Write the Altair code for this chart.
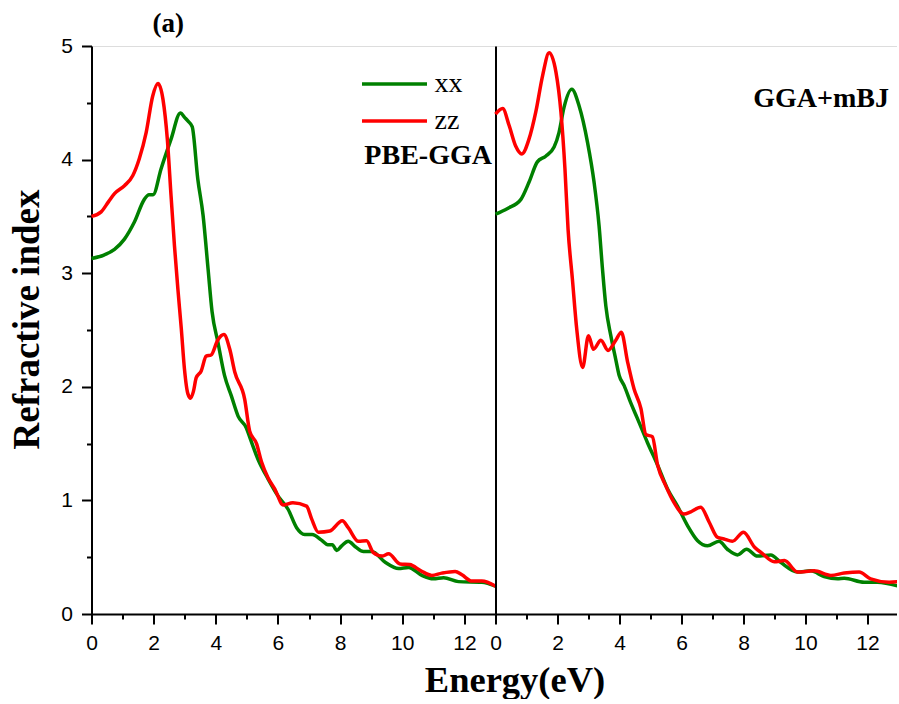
import altair as alt
import pandas as pd

# ---------------- data ----------------
pbe_xx_E = [0.0, 0.4, 0.74, 1.06, 1.38, 1.70, 1.85, 1.98, 2.24, 2.56, 2.86, 3.00, 3.10, 3.24, 3.42,
            3.59, 3.75, 3.88, 4.07, 4.28, 4.50, 4.72, 4.98, 5.10, 5.36, 5.68, 6.00, 6.33, 6.60, 6.86,
            7.10, 7.40, 7.60, 7.75, 7.89, 8.05, 8.26, 8.50, 8.75, 9.02, 9.45, 9.88, 10.2, 10.63,
            11.0, 11.33, 11.81, 12.56, 13.0]
pbe_xx_n = [3.13, 3.16, 3.21, 3.30, 3.45, 3.65, 3.69, 3.69, 3.92, 4.18, 4.41, 4.37, 4.34, 4.29, 3.83,
            3.51, 3.04, 2.66, 2.39, 2.10, 1.92, 1.74, 1.64, 1.55, 1.36, 1.19, 1.04, 0.92, 0.76, 0.70,
            0.70, 0.65, 0.61, 0.61, 0.56, 0.60, 0.64, 0.59, 0.55, 0.55, 0.455, 0.40, 0.41, 0.34,
            0.31, 0.32, 0.285, 0.28, 0.245]

pbe_zz_E = [0.0, 0.31, 0.55, 0.74, 1.06, 1.33, 1.54, 1.76, 1.97, 2.14, 2.30, 2.44, 2.56, 2.67, 2.78,
            2.89, 2.99, 3.10, 3.19, 3.28, 3.37, 3.53, 3.69, 3.85, 4.06, 4.26, 4.45, 4.61, 4.93, 5.09,
            5.31, 5.47, 5.68, 5.90, 6.17, 6.48, 6.92, 7.08, 7.30, 7.67, 8.07, 8.26, 8.59, 8.85, 9.07,
            9.35, 9.56, 9.93, 10.24, 10.60, 10.95, 11.27, 11.70, 11.92, 12.24, 12.56, 13.0]
pbe_zz_n = [3.50, 3.54, 3.63, 3.70, 3.77, 3.86, 4.01, 4.24, 4.56, 4.67, 4.53, 4.18, 3.68, 3.24, 2.86,
            2.51, 2.16, 1.94, 1.90, 1.96, 2.08, 2.14, 2.27, 2.28, 2.41, 2.46, 2.33, 2.13, 1.89, 1.61,
            1.50, 1.34, 1.20, 1.10, 0.96, 0.98, 0.95, 0.84, 0.72, 0.73, 0.82, 0.76, 0.64, 0.645, 0.54,
            0.51, 0.53, 0.44, 0.435, 0.38, 0.34, 0.36, 0.375, 0.345, 0.29, 0.29, 0.245]

mbj_xx_E = [0.0, 0.39, 0.82, 1.08, 1.35, 1.62, 1.89, 2.05, 2.21, 2.46, 2.70, 2.97, 3.18, 3.34, 3.45,
            3.56, 3.72, 3.88, 3.99, 4.15, 4.36, 4.58, 4.90, 5.23, 5.55, 5.87, 6.19, 6.52, 6.84, 7.21,
            7.48, 7.81, 8.10, 8.45, 8.88, 9.20, 9.74, 10.17, 10.60, 11.03, 11.25, 11.89, 12.32, 13.0]
mbj_xx_n = [3.52, 3.57, 3.65, 3.80, 3.98, 4.03, 4.11, 4.24, 4.46, 4.62, 4.47, 4.15, 3.80, 3.42, 3.04,
            2.71, 2.45, 2.24, 2.10, 2.01, 1.86, 1.72, 1.51, 1.31, 1.10, 0.95, 0.78, 0.645, 0.60, 0.64,
            0.57, 0.52, 0.57, 0.51, 0.52, 0.455, 0.37, 0.38, 0.33, 0.31, 0.315, 0.28, 0.28, 0.245]

mbj_zz_E = [0.0, 0.23, 0.44, 0.65, 0.85, 1.08, 1.30, 1.52, 1.73, 1.95, 2.11, 2.24, 2.34, 2.48, 2.62,
            2.81, 3.00, 3.16, 3.40, 3.63, 3.88, 4.06, 4.26, 4.47, 4.69, 4.85, 5.06, 5.23, 5.49, 5.76,
            6.08, 6.30, 6.62, 6.89, 7.16, 7.37, 7.64, 8.00, 8.35, 8.62, 8.99, 9.32, 9.74, 10.28,
            10.82, 11.25, 11.73, 12.10, 12.70, 13.0]
mbj_zz_n = [4.40, 4.45, 4.30, 4.12, 4.05, 4.18, 4.42, 4.74, 4.94, 4.77, 4.42, 3.92, 3.39, 2.95, 2.51,
            2.17, 2.45, 2.33, 2.41, 2.32, 2.41, 2.48, 2.22, 1.98, 1.81, 1.58, 1.56, 1.31, 1.13, 0.98,
            0.88, 0.90, 0.94, 0.81, 0.675, 0.66, 0.64, 0.72, 0.59, 0.53, 0.46, 0.47, 0.37, 0.38,
            0.34, 0.36, 0.37, 0.31, 0.28, 0.285]

components = ["xx", "zz"]
colors = ["#008000", "#ff0000"]
x_major = [0, 2, 4, 6, 8, 10, 12]
x_minor = [1, 3, 5, 7, 9, 11, 13]
y_major = [0, 1, 2, 3, 4, 5]
y_minor = [0.5, 1.5, 2.5, 3.5, 4.5]


def panel_df(exx, nxx, ezz, nzz):
    return pd.DataFrame({
        "E": exx + ezz,
        "n": nxx + nzz,
        "comp": [components[0]] * len(exx) + [components[1]] * len(ezz),
    })


df_pbe = panel_df(pbe_xx_E, pbe_xx_n, pbe_zz_E, pbe_zz_n)
df_mbj = panel_df(mbj_xx_E, mbj_xx_n, mbj_zz_E, mbj_zz_n)

W_L, W_R, H = 404, 403, 568
SERIF = "Liberation Serif"
SANS = "Liberation Sans"

x_scale = alt.Scale(domain=[0, 13], nice=False, zero=False)
y_scale = alt.Scale(domain=[0, 5], nice=False)

common_axis = dict(tickColor="black", tickWidth=2, domainColor="black", domainWidth=2, grid=False)


def x_major_axis(title=None, **kw):
    return alt.Axis(values=x_major, tickSize=10, format="d",
                    labelFont=SANS, labelFontSize=21, labelColor="black", labelPadding=8,
                    labelFlush=False, labelOverlap=False, title=title, **common_axis, **kw)


x_minor_axis = alt.Axis(values=x_minor, tickSize=5, labels=False, domain=False, title=None,
                        orient="bottom", tickColor="black", tickWidth=2, grid=False)

y_major_left = alt.Axis(
    values=y_major, tickSize=10, format="d",
    labelFont=SANS, labelFontSize=21, labelColor="black", labelPadding=9,
    labelFlush=False, labelOverlap=False,
    title="Refractive index", titleFont=SERIF, titleFontSize=37, titleFontWeight="bold",
    titleColor="black", titlePadding=14, titleY=273, **common_axis,
)
y_minor_left = alt.Axis(values=y_minor, tickSize=5, labels=False, domain=False, title=None,
                        orient="left", tickColor="black", tickWidth=2, grid=False)
y_axis_right = alt.Axis(values=y_major, ticks=False, labels=False, title=None, **common_axis)

# legend: a horizontal line symbol whose nominal box is small, so rows can sit close
legend = alt.Legend(
    orient="none", legendX=289, legendY=24, title=None,
    symbolType="M-4,0H4", symbolSize=264, symbolStrokeWidth=3.5,
    symbolFillColor="transparent",
    labelFont=SERIF, labelFontSize=28, labelColor="black", labelOffset=26,
    rowPadding=9, padding=0, labelLimit=0,
)

color_left = alt.Color("comp:N", scale=alt.Scale(domain=components, range=colors), legend=legend)
color_right = alt.Color("comp:N", scale=alt.Scale(domain=components, range=colors), legend=None)

# ---------------- left panel: PBE-GGA ----------------
lines_left = alt.Chart(df_pbe).mark_line(strokeWidth=3.5, interpolate="monotone").encode(
    x=alt.X("E:Q", scale=x_scale, axis=x_major_axis(
        "Energy(eV)", titleFont=SERIF, titleFontSize=36.5, titleFontWeight="bold",
        titleColor="black", titleX=423, titleY=77, titleAlign="center",
        titleBaseline="alphabetic")),
    y=alt.Y("n:Q", scale=y_scale, axis=y_major_left),
    color=color_left,
)
minor_left = alt.Chart(df_pbe).mark_line(strokeOpacity=0).encode(
    x=alt.X("E:Q", scale=x_scale, axis=x_minor_axis),
    y=alt.Y("n:Q", scale=y_scale, axis=y_minor_left),
    detail="comp:N",
)
label_left = alt.Chart().mark_text(
    text="PBE-GGA", font=SERIF, fontSize=28, fontWeight="bold", align="left",
    baseline="alphabetic", color="black",
).encode(x=alt.XDatum(8.78, axis=None), y=alt.YDatum(3.96, axis=None))

left = alt.layer(lines_left, minor_left, label_left).resolve_axis(
    x="independent", y="independent").properties(width=W_L, height=H)

# ---------------- right panel: GGA+mBJ ----------------
lines_right = alt.Chart(df_mbj).mark_line(strokeWidth=3.5, interpolate="monotone").encode(
    x=alt.X("E:Q", scale=x_scale, axis=x_major_axis(None)),
    y=alt.Y("n:Q", scale=y_scale, axis=y_axis_right),
    color=color_right,
)
minor_right = alt.Chart(df_mbj).mark_line(strokeOpacity=0).encode(
    x=alt.X("E:Q", scale=x_scale, axis=x_minor_axis),
    y=alt.Y("n:Q", scale=y_scale, axis=None),
    detail="comp:N",
)
label_right = alt.Chart().mark_text(
    text="GGA+mBJ", font=SERIF, fontSize=28, fontWeight="bold", align="right",
    baseline="alphabetic", color="black",
).encode(x=alt.XDatum(12.69, axis=None), y=alt.YDatum(4.46, axis=None))

right = alt.layer(lines_right, minor_right, label_right).resolve_axis(
    x="independent", y="independent").properties(width=W_R, height=H)

chart = alt.hconcat(left, right, spacing=0, bounds="flush").properties(
    title=alt.TitleParams("(a)", anchor="start", frame="group", font=SERIF, fontSize=27,
                          fontWeight="bold", color="black", dx=61, offset=-3),
    padding={"left": 7.5, "top": 9, "right": -10, "bottom": 0},
).configure_view(stroke="black", strokeWidth=2).configure(background="white")

chart.save("out.html", embed_options={"renderer": "svg", "actions": False})
